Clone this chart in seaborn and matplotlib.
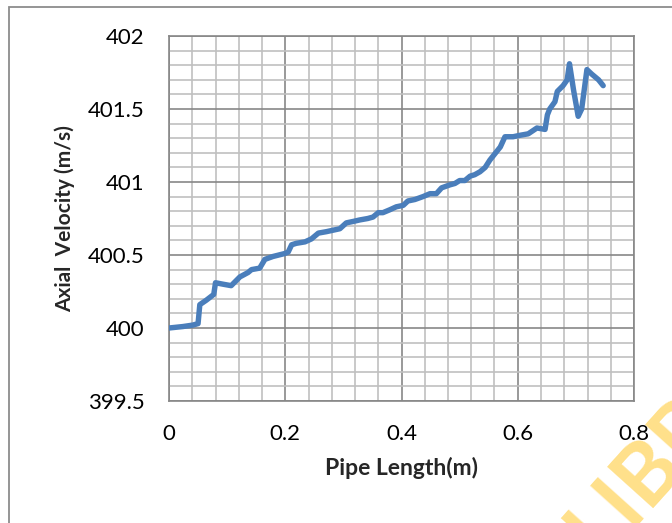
import numpy as np
import pandas as pd
import seaborn as sns
import matplotlib.pyplot as plt
from matplotlib.patches import Rectangle
from matplotlib.ticker import MultipleLocator

# values
pipe_length = [0.000, 0.024, 0.041, 0.050, 0.053, 0.064, 0.077, 0.080, 0.093, 0.107,
               0.122, 0.136, 0.142, 0.156, 0.165, 0.179, 0.199, 0.205, 0.211, 0.219,
               0.234, 0.245, 0.257, 0.271, 0.294, 0.305, 0.317, 0.328, 0.342, 0.351,
               0.360, 0.368, 0.380, 0.391, 0.403, 0.411, 0.423, 0.437, 0.449, 0.460,
               0.469, 0.483, 0.492, 0.500, 0.509, 0.518, 0.526, 0.535, 0.544, 0.552,
               0.564, 0.570, 0.578, 0.592, 0.604, 0.618, 0.633, 0.647, 0.651, 0.655,
               0.664, 0.668, 0.678, 0.685, 0.689, 0.696, 0.704, 0.710, 0.719, 0.727,
               0.739, 0.747]
axial_velocity = [400.00, 400.01, 400.02, 400.03, 400.16, 400.19, 400.23, 400.31, 400.30, 400.29,
                  400.35, 400.38, 400.40, 400.41, 400.47, 400.49, 400.51, 400.52, 400.57, 400.58,
                  400.59, 400.61, 400.65, 400.66, 400.68, 400.72, 400.73, 400.74, 400.75, 400.76,
                  400.79, 400.79, 400.81, 400.83, 400.84, 400.87, 400.88, 400.90, 400.92, 400.92,
                  400.96, 400.98, 400.99, 401.01, 401.01, 401.04, 401.05, 401.07, 401.10, 401.15,
                  401.21, 401.24, 401.31, 401.31, 401.32, 401.33, 401.37, 401.36, 401.46, 401.50,
                  401.55, 401.62, 401.66, 401.70, 401.81, 401.63, 401.45, 401.50, 401.77, 401.74,
                  401.70, 401.66]

x_ticks = [0, 0.2, 0.4, 0.6, 0.8]
x_tick_labels = ["0", "0.2", "0.4", "0.6", "0.8"]
y_ticks = [399.5, 400, 400.5, 401, 401.5, 402]
y_tick_labels = ["399.5", "400", "400.5", "401", "401.5", "402"]

df = pd.DataFrame({"Pipe Length(m)": pipe_length, "Axial Velocity (m/s)": axial_velocity})

sns.set_style("white")
plt.rcParams['font.family'] = ['Lato', 'DejaVu Sans']

fig = plt.figure(figsize=(6.72, 5.23), dpi=100)
ax = fig.add_axes([169 / 672, 1 - 401 / 523, 465 / 672, 365 / 523])

sns.lineplot(data=df, x="Pipe Length(m)", y="Axial Velocity (m/s)", ax=ax,
             sort=False, estimator=None, color="#4A7EBB", linewidth=3.9,
             solid_capstyle="round", solid_joinstyle="round", zorder=5)

ax.set_xlim(0, 0.8)
ax.set_ylim(399.5, 402)
ax.set_xticks(x_ticks)
ax.set_xticklabels(x_tick_labels)
ax.set_yticks(y_ticks)
ax.set_yticklabels(y_tick_labels)
ax.xaxis.set_minor_locator(MultipleLocator(0.04))
ax.yaxis.set_minor_locator(MultipleLocator(0.1))

ax.grid(which="major", color="#878787", linewidth=1.2)
ax.grid(which="minor", color="#C0C0C0", linewidth=1.2)
ax.set_axisbelow(True)

for s in ax.spines.values():
    s.set_color("#878787")
    s.set_linewidth(1.2)

ax.tick_params(axis="both", which="major", direction="out", color="#878787",
               width=1.2, labelsize=16, labelcolor="black")
ax.tick_params(axis="x", which="major", length=5.8, pad=11)
ax.tick_params(axis="y", which="major", length=3.6, pad=14)
ax.tick_params(which="minor", length=0)

ax.set_xlabel("Pipe Length(m)", fontsize=16.5, fontweight="bold", labelpad=9)
ax.set_ylabel("Axial  Velocity (m/s)", fontsize=15, fontweight="bold", labelpad=9)

# outer chart border
fig.add_artist(Rectangle((9 / 672, -0.1), 1.2, (523 - 7) / 523 + 0.1, fill=False,
                         edgecolor="#8C8C8C", linewidth=1.3, transform=fig.transFigure))

# watermark in the corner, mostly cut off by the image edge
fig.text(600 / 672, -0.071, "LIBRARY", color="#FFE08A", fontsize=62, fontweight="bold",
         rotation=48, rotation_mode="anchor", ha="left", va="baseline", zorder=-1)

fig.savefig("out.png", dpi=100)
